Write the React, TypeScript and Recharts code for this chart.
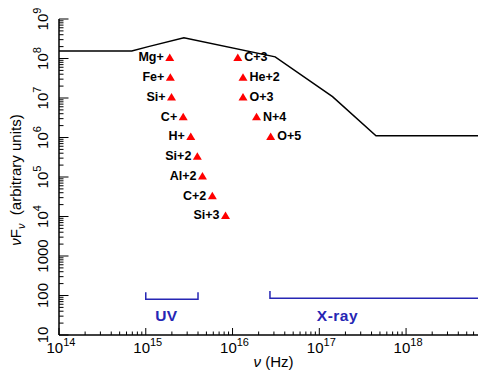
import React from 'react';
import { ComposedChart, Line, Scatter, XAxis, YAxis, Label } from 'recharts';

// SED shape (Hz, arbitrary nuFnu)
const sedFreq = [1e14, 6.9e14, 1.07e15, 2.75e15, 3.1e16, 1.42e17, 4.5e17, 7.5e18];
const sedFlux = [1.55e8, 1.55e8, 2.0e8, 3.35e8, 1.1e8, 1.08e7, 1.1e6, 1.1e6];

// ionization potentials, low ions (label left of marker)
const lowIons = ['Mg+', 'Fe+', 'Si+', 'C+', 'H+', 'Si+2', 'Al+2', 'C+2', 'Si+3'];
const lowIonFreq = [1.89e15, 1.92e15, 1.98e15, 2.7e15, 3.3e15, 3.93e15, 4.5e15, 5.85e15, 8.3e15];
const lowIonFlux = [1e8, 3.16e7, 1e7, 3.16e6, 1e6, 3.16e5, 1e5, 3.16e4, 1e4];

// high ions (label right of marker)
const highIons = ['C+3', 'He+2', 'O+3', 'N+4', 'O+5'];
const highIonFreq = [1.15e16, 1.32e16, 1.32e16, 1.89e16, 2.75e16];
const highIonFlux = [1e8, 3.16e7, 1e7, 3.16e6, 1e6];

// band brackets
const uvFreq = [1e15, 1e15, 4e15, 4e15];
const uvFlux = [120, 80, 80, 120];
const xrayFreq = [2.7e16, 2.7e16, 7.3e18, 7.3e18];
const xrayFlux = [130, 85, 85, 130];
const bandNames = ['UV', 'X-ray'];
const bandFreq = [1.73e15, 1.62e17];
const bandFlux = [32, 32];

// axis decades
const xDecades = [1e14, 1e15, 1e16, 1e17, 1e18];
const yDecades = [10, 100, 1000, 1e4, 1e5, 1e6, 1e7, 1e8, 1e9];
const yTickLabels = ['10', '100', '1000', '', '', '', '', '', ''];

const X_MAX = 7.5e18;

const xTicks: number[] = [];
xDecades.forEach((d) => {
	for (let m = 1; m <= 9; m++) if (d * m <= X_MAX) xTicks.push(d * m);
});
const yTicks: number[] = [];
yDecades.forEach((d, i) => {
	if (i === yDecades.length - 1) yTicks.push(d);
	else for (let m = 1; m <= 9; m++) yTicks.push(d * m);
});

const sedData = sedFreq.map((x, i) => ({ x, y: sedFlux[i] }));
const lowData = lowIons.map((label, i) => ({ x: lowIonFreq[i], y: lowIonFlux[i], label }));
const highData = highIons.map((label, i) => ({ x: highIonFreq[i], y: highIonFlux[i], label }));
const uvData = uvFreq.map((x, i) => ({ x, y: uvFlux[i] }));
const xrayData = xrayFreq.map((x, i) => ({ x, y: xrayFlux[i] }));
const bandData = bandNames.map((label, i) => ({ x: bandFreq[i], y: bandFlux[i], label }));

const FONT = '"Liberation Sans", Arial, Helvetica, sans-serif';
const BLUE = '#2626b4';

const isMajor = (v: number) => {
	const l = Math.log10(v);
	return Math.abs(l - Math.round(l)) < 1e-6;
};
const expOf = (v: number) => Math.round(Math.log10(v));

function BottomTick(props: any) {
	const { x, y, payload } = props;
	const major = isMajor(payload.value);
	return (
		<g>
			<line x1={x} x2={x} y1={y} y2={y - (major ? 7 : 3.5)} stroke="#000" />
			{major && (
				<text x={x + 2} y={y + 18} textAnchor="middle" fontSize={15} fill="#000" fontFamily={FONT}>
					10
					<tspan dy={-7} fontSize={11}>
						{expOf(payload.value)}
					</tspan>
				</text>
			)}
		</g>
	);
}

function TopTick(props: any) {
	const { x, y, payload } = props;
	const major = isMajor(payload.value);
	return <line x1={x} x2={x} y1={y} y2={y + (major ? 7 : 3.5)} stroke="#000" />;
}

function LeftTick(props: any) {
	const { x, y, payload } = props;
	const v = payload.value;
	const major = isMajor(v);
	const e = expOf(v);
	const plain = yTickLabels[yDecades.indexOf(Math.pow(10, e))];
	const tx = x - 11;
	return (
		<g>
			<line x1={x} x2={x + (major ? 9.5 : 4.5)} y1={y} y2={y} stroke="#000" />
			{major && (
				<text
					x={tx}
					y={y}
					transform={`rotate(-90, ${tx}, ${y})`}
					textAnchor="middle"
					fontSize={15}
					fill="#000"
					fontFamily={FONT}
				>
					{plain ? (
						plain
					) : (
						<>
							10
							<tspan dy={-7} fontSize={11}>
								{e}
							</tspan>
						</>
					)}
				</text>
			)}
		</g>
	);
}

function RightTick(props: any) {
	const { x, y, payload } = props;
	const major = isMajor(payload.value);
	return <line x1={x} x2={x - (major ? 9.5 : 4.5)} y1={y} y2={y} stroke="#000" />;
}

const triangle = (cx: number, cy: number) =>
	`M${cx},${cy - 5} L${cx + 4.5},${cy + 2.5} L${cx - 4.5},${cy + 2.5} Z`;

function LowIon(props: any) {
	const { cx, cy, payload } = props;
	return (
		<g>
			<path d={triangle(cx, cy)} fill="#ff0000" />
			<text x={cx - 6} y={cy + 2.8} textAnchor="end" fontSize={12.5} fontWeight="bold" fontFamily={FONT} fill="#000">
				{payload.label}
			</text>
		</g>
	);
}

function HighIon(props: any) {
	const { cx, cy, payload } = props;
	return (
		<g>
			<path d={triangle(cx, cy)} fill="#ff0000" />
			<text x={cx + 6.5} y={cy + 2.8} textAnchor="start" fontSize={12.5} fontWeight="bold" fontFamily={FONT} fill="#000">
				{payload.label}
			</text>
		</g>
	);
}

function BandName(props: any) {
	const { cx, cy, payload } = props;
	return (
		<text
			x={cx}
			y={cy + 5.5}
			textAnchor="middle"
			fontSize={15.5}
			fontWeight="bold"
			fontFamily={FONT}
			letterSpacing={0.5}
			fill={BLUE}
		>
			{payload.label}
		</text>
	);
}

export default function App() {
	return (
		<div style={{ width: 478, height: 366 }}>
			<ComposedChart width={478} height={366} margin={{ top: 11, right: 4, bottom: 0, left: 0 }}>
				<XAxis
					xAxisId="b"
					type="number"
					dataKey="x"
					scale="log"
					domain={[1e14, X_MAX]}
					allowDataOverflow
					ticks={xTicks}
					interval={0}
					tick={<BottomTick />}
					tickLine={false}
					tickSize={0}
					tickMargin={0}
					height={39}
					axisLine={{ stroke: '#000', strokeWidth: 1.5 }}
				>
					<Label
						content={(p: any) => {
							const { x, y, width } = p.viewBox;
							return (
								<text x={x + width / 2 + 3} y={y + 32} textAnchor="middle" fontSize={15} fontFamily={FONT} fill="#000">
									<tspan fontStyle="italic">ν</tspan> (Hz)
								</text>
							);
						}}
					/>
				</XAxis>
				<XAxis
					xAxisId="t"
					orientation="top"
					type="number"
					dataKey="x"
					scale="log"
					domain={[1e14, X_MAX]}
					allowDataOverflow
					ticks={xTicks}
					interval={0}
					tick={<TopTick />}
					tickLine={false}
					tickSize={0}
					tickMargin={0}
					height={0}
					axisLine={{ stroke: '#000', strokeWidth: 1.5 }}
				/>
				<YAxis
					yAxisId="l"
					type="number"
					dataKey="y"
					scale="log"
					domain={[10, 1e9]}
					allowDataOverflow
					ticks={yTicks}
					interval={0}
					tick={<LeftTick />}
					tickLine={false}
					tickSize={0}
					tickMargin={0}
					width={51}
					axisLine={{ stroke: '#000', strokeWidth: 1.5 }}
				>
					<Label
						content={(p: any) => {
							const { x, y, height } = p.viewBox;
							const tx = x + 13;
							const ty = y + height / 2 + 3;
							return (
								<text
									x={tx}
									y={ty}
									transform={`rotate(-90, ${tx}, ${ty})`}
									textAnchor="middle"
									fontSize={15}
									fontFamily={FONT}
									fill="#000"
									style={{ whiteSpace: 'pre' }}
								>
									<tspan fontStyle="italic">ν</tspan>F
									<tspan dy={4} fontSize={11} fontStyle="italic">
										ν
									</tspan>
									<tspan dy={-4}>{'  (arbitrary units)'}</tspan>
								</text>
							);
						}}
					/>
				</YAxis>
				<YAxis
					yAxisId="r"
					orientation="right"
					type="number"
					dataKey="y"
					scale="log"
					domain={[10, 1e9]}
					allowDataOverflow
					ticks={yTicks}
					interval={0}
					tick={<RightTick />}
					tickLine={false}
					tickSize={0}
					tickMargin={0}
					width={0}
					axisLine={{ stroke: '#000', strokeWidth: 1.5 }}
				/>
				<Line
					data={sedData}
					dataKey="y"
					xAxisId="b"
					yAxisId="l"
					type="linear"
					stroke="#000"
					strokeWidth={1.5}
					dot={false}
					activeDot={false}
					isAnimationActive={false}
				/>
				<Line
					data={uvData}
					dataKey="y"
					xAxisId="b"
					yAxisId="l"
					type="linear"
					stroke={BLUE}
					strokeWidth={1.5}
					dot={false}
					activeDot={false}
					isAnimationActive={false}
				/>
				<Line
					data={xrayData}
					dataKey="y"
					xAxisId="b"
					yAxisId="l"
					type="linear"
					stroke={BLUE}
					strokeWidth={1.5}
					dot={false}
					activeDot={false}
					isAnimationActive={false}
				/>
				<Scatter data={lowData} xAxisId="b" yAxisId="l" shape={<LowIon />} isAnimationActive={false} />
				<Scatter data={highData} xAxisId="b" yAxisId="l" shape={<HighIon />} isAnimationActive={false} />
				<Scatter data={bandData} xAxisId="b" yAxisId="l" shape={<BandName />} isAnimationActive={false} />
			</ComposedChart>
		</div>
	);
}
